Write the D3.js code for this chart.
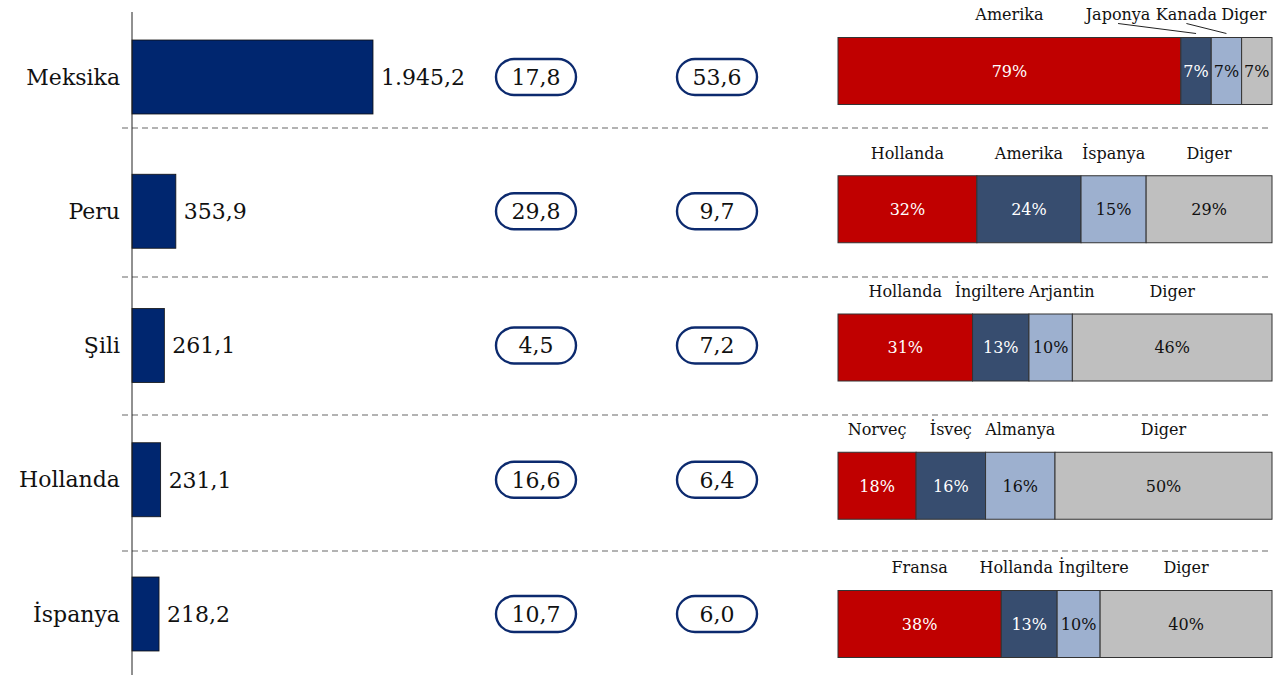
<!DOCTYPE html>
<html>
<head>
<meta charset="utf-8">
<script src="https://cdn.jsdelivr.net/npm/d3@7"></script>
<style>
  body { margin: 0; background: #fff; }
  svg { display: block; font-family: "DejaVu Serif", serif; }
</style>
</head>
<body>
<div id="chart"></div>
<script>
// data
const countries = ["Meksika", "Peru", "Şili", "Hollanda", "İspanya"];
const values = [1945.2, 353.9, 261.1, 231.1, 218.2];
const col1 = [17.8, 29.8, 4.5, 16.6, 10.7];
const col2 = [53.6, 9.7, 7.2, 6.4, 6.0];
const partnerNames = [
    ["Amerika", "Japonya", "Kanada", "Diger"],
    ["Hollanda", "Amerika", "İspanya", "Diger"],
    ["Hollanda", "İngiltere", "Arjantin", "Diger"],
    ["Norveç", "İsveç", "Almanya", "Diger"],
    ["Fransa", "Hollanda", "İngiltere", "Diger"]
];
const partnerShares = [
    [79, 7, 7, 7],
    [32, 24, 15, 29],
    [31, 13, 10, 46],
    [18, 16, 16, 50],
    [38, 13, 10, 40]
];

// layout
const width = 1280, height = 675;
const segColors = ["#c00000", "#374d6f", "#9db0cf", "#bfbfbf"];
const segText = ["#fff", "#fff", "#111", "#111"];
// label nudges where labels would overlap (px, per row/segment)
const labelShift = [[0, -78, -40, -13], [0, 0, 0, 0], [0, -11, 11, 0], [0, 0, 0, 0], [0, -13, 15, 0]];
const leaders = [[false, true, true, false], [], [], [], []];
const sepY = [128, 277, 415, 551];

const trFormat = d3.formatLocale({decimal: ",", thousands: ".", grouping: [3], currency: ["", ""]}).format(",.1f");

const svg = d3.select("#chart").append("svg")
    .attr("width", width)
    .attr("height", height);

const y = d3.scalePoint().domain(countries).range([77, 614]);
const x = d3.scaleLinear().domain([0, d3.max(values)]).range([132, 373]);
const barH = 74;

// separators
svg.append("g").selectAll("line")
    .data(sepY)
    .enter().append("line")
    .attr("x1", 122).attr("x2", 1272)
    .attr("y1", d => d).attr("y2", d => d)
    .attr("stroke", "#9a9a9a")
    .attr("stroke-width", 1.3)
    .attr("stroke-dasharray", "6,4");

// left bars
svg.append("g").selectAll("rect")
    .data(countries)
    .enter().append("rect")
    .attr("x", x(0))
    .attr("y", d => y(d) - barH / 2)
    .attr("width", (d, i) => x(values[i]) - x(0))
    .attr("height", barH)
    .attr("fill", "#00266f")
    .attr("stroke", "#111")
    .attr("stroke-width", 0.8);

svg.append("g").selectAll("text")
    .data(countries)
    .enter().append("text")
    .attr("x", (d, i) => x(values[i]) + 8)
    .attr("y", d => y(d))
    .attr("dy", "0.36em")
    .attr("font-size", 22)
    .attr("fill", "#111")
    .text((d, i) => trFormat(values[i]));

// axis
const yAxis = svg.append("g")
    .attr("transform", "translate(132,0)")
    .call(d3.axisLeft(y).tickSize(0).tickPadding(12));
yAxis.select(".domain").remove();
yAxis.append("line")
    .attr("y1", 12).attr("y2", 675)
    .attr("stroke", "#222").attr("stroke-width", 1);
yAxis.selectAll(".tick text")
    .attr("font-family", "DejaVu Serif, serif")
    .attr("font-size", 22)
    .attr("fill", "#111");

// pills
function pills(vals, cx) {
    const g = svg.append("g");
    const pill = g.selectAll("g")
        .data(countries)
        .enter().append("g")
        .attr("transform", d => `translate(${cx},${y(d)})`);
    pill.append("rect")
        .attr("x", -40).attr("y", -18)
        .attr("width", 80).attr("height", 36)
        .attr("rx", 18)
        .attr("fill", "#fff")
        .attr("stroke", "#0c2a6e")
        .attr("stroke-width", 2.4);
    pill.append("text")
        .attr("text-anchor", "middle")
        .attr("dy", "0.36em")
        .attr("font-size", 22)
        .attr("fill", "#111")
        .text((d, i) => trFormat(vals[i]));
}
pills(col1, 536);
pills(col2, 717);

// stacked share bars
const ys = d3.scalePoint().domain(countries).range([71, 624]);
const stackH = 67;

countries.forEach((c, r) => {
    const shares = partnerShares[r];
    const total = d3.sum(shares);
    const xs = d3.scaleLinear().domain([0, total]).range([838, 1272]);
    const cum = d3.cumsum([0].concat(shares));
    const top = ys(c) - stackH / 2;
    const g = svg.append("g");

    g.selectAll("rect")
        .data(shares)
        .enter().append("rect")
        .attr("x", (d, i) => xs(cum[i]))
        .attr("y", top)
        .attr("width", d => xs(d) - xs(0))
        .attr("height", stackH)
        .attr("fill", (d, i) => segColors[i])
        .attr("stroke", "#333")
        .attr("stroke-width", 1);

    g.selectAll("text.pct")
        .data(shares)
        .enter().append("text")
        .attr("class", "pct")
        .attr("x", (d, i) => xs(cum[i] + d / 2))
        .attr("y", top + stackH / 2)
        .attr("dy", "0.36em")
        .attr("text-anchor", "middle")
        .attr("font-size", 16)
        .attr("fill", (d, i) => segText[i])
        .text(d => d + "%");

    g.selectAll("text.lab")
        .data(partnerNames[r])
        .enter().append("text")
        .attr("class", "lab")
        .attr("x", (d, i) => xs(cum[i] + shares[i] / 2) + labelShift[r][i])
        .attr("y", top - 23)
        .attr("dy", "0.36em")
        .attr("text-anchor", "middle")
        .attr("font-size", 16)
        .attr("fill", "#111")
        .text(d => d);

    g.selectAll("line.lead")
        .data(partnerNames[r].filter((d, i) => leaders[r][i]).map(d => partnerNames[r].indexOf(d)))
        .enter().append("line")
        .attr("class", "lead")
        .attr("x1", i => xs(cum[i] + shares[i] / 2) + labelShift[r][i])
        .attr("y1", top - 14)
        .attr("x2", i => xs(cum[i] + shares[i] / 2))
        .attr("y2", top - 4)
        .attr("stroke", "#222")
        .attr("stroke-width", 1);
});
</script>
</body>
</html>
